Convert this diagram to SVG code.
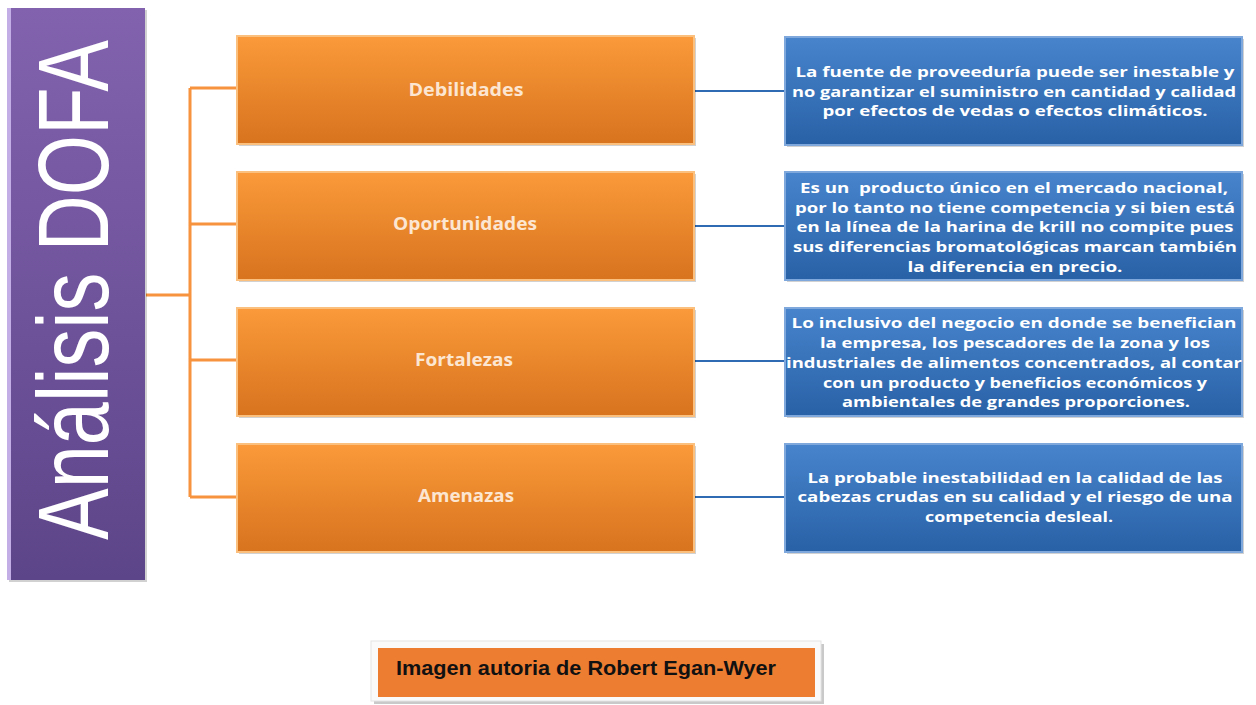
<svg xmlns="http://www.w3.org/2000/svg" width="1256" height="705" viewBox="0 0 1256 705">
<defs>
<linearGradient id="gPurple" x1="0" y1="0" x2="0" y2="1"><stop offset="0" stop-color="#8262AE"/><stop offset="1" stop-color="#5D4589"/></linearGradient>
<linearGradient id="gOrange" x1="0" y1="0" x2="0" y2="1"><stop offset="0" stop-color="#FA9A3A"/><stop offset="1" stop-color="#D8731E"/></linearGradient>
<linearGradient id="gBlue" x1="0" y1="0" x2="0" y2="1"><stop offset="0" stop-color="#4784CC"/><stop offset="1" stop-color="#2961A6"/></linearGradient>
<style>
.shadow{fill:#000;opacity:0.18}
.orange{fill:url(#gOrange);stroke:#FBC07E;stroke-width:2}
.blue{fill:url(#gBlue);stroke:#7FA9DC;stroke-width:2}
.olbl{font-family:"Open Sans","Liberation Sans",sans-serif;font-weight:bold;font-size:17px;fill:#FCE6D2;text-anchor:middle}
.btxt{font-family:"Open Sans","Liberation Sans",sans-serif;font-weight:bold;font-size:15px;fill:#FFFFFF;text-anchor:middle}
.oc{fill:none;stroke:#F7923E;stroke-width:3}
.bc{fill:none;stroke:#2E6BB2;stroke-width:2}
</style>
</defs>
<rect width="1256" height="705" fill="#FFFFFF"/>

<g id="connectors">
<path class="oc" d="M146 295 H190 M190 88 V497 M190 88 H237 M190 224 H237 M190 360 H237 M190 497 H237"/>
<path class="bc" d="M695 91 H785 M695 226 H785 M695 361 H785 M695 497 H785"/>
</g>

<g id="title">
<rect x="9" y="10" width="138" height="572" class="shadow"/>
<rect x="7" y="8" width="138" height="572" fill="url(#gPurple)"/>
<rect x="7" y="8" width="4" height="572" fill="#C4AEE6"/>
<text transform="translate(108,290) rotate(-90)" font-family="'Liberation Sans',Arial,sans-serif" font-size="100" fill="#FFFFFF" text-anchor="middle" textLength="500" lengthAdjust="spacingAndGlyphs">Análisis DOFA</text>
</g>

<g id="debilidades">
<rect x="239" y="38" width="457" height="108" class="shadow"/>
<rect x="237" y="36" width="457" height="108" class="orange"/>
<text x="466" y="96" class="olbl" textLength="115" lengthAdjust="spacingAndGlyphs">Debilidades</text>
</g>
<g id="oportunidades">
<rect x="239" y="174" width="457" height="108" class="shadow"/>
<rect x="237" y="172" width="457" height="108" class="orange"/>
<text x="465" y="230" class="olbl" textLength="144" lengthAdjust="spacingAndGlyphs">Oportunidades</text>
</g>
<g id="fortalezas">
<rect x="239" y="310" width="457" height="108" class="shadow"/>
<rect x="237" y="308" width="457" height="108" class="orange"/>
<text x="464" y="366" class="olbl" textLength="98" lengthAdjust="spacingAndGlyphs">Fortalezas</text>
</g>
<g id="amenazas">
<rect x="239" y="446" width="457" height="108" class="shadow"/>
<rect x="237" y="444" width="457" height="108" class="orange"/>
<text x="466" y="502" class="olbl" textLength="96" lengthAdjust="spacingAndGlyphs">Amenazas</text>
</g>

<g id="desc-debilidades">
<rect x="787" y="39" width="457" height="108" class="shadow"/>
<rect x="785" y="37" width="457" height="108" class="blue"/>
<text class="btxt" x="1015" y="77" textLength="439" lengthAdjust="spacingAndGlyphs">La fuente de proveeduría puede ser inestable y</text>
<text class="btxt" x="1014" y="97" textLength="444" lengthAdjust="spacingAndGlyphs">no garantizar el suministro en cantidad y calidad</text>
<text class="btxt" x="1015" y="116" textLength="385" lengthAdjust="spacingAndGlyphs">por efectos de vedas o efectos climáticos.</text>
</g>
<g id="desc-oportunidades">
<rect x="787" y="174" width="457" height="108" class="shadow"/>
<rect x="785" y="172" width="457" height="108" class="blue"/>
<text class="btxt" x="1014" y="193" textLength="428" lengthAdjust="spacingAndGlyphs" xml:space="preserve">Es un  producto único en el mercado nacional,</text>
<text class="btxt" x="1015" y="213" textLength="440" lengthAdjust="spacingAndGlyphs">por lo tanto no tiene competencia y si bien está</text>
<text class="btxt" x="1015" y="232" textLength="437" lengthAdjust="spacingAndGlyphs">en la línea de la harina de krill no compite pues</text>
<text class="btxt" x="1015" y="252" textLength="444" lengthAdjust="spacingAndGlyphs">sus diferencias bromatológicas marcan también</text>
<text class="btxt" x="1015" y="272" textLength="215" lengthAdjust="spacingAndGlyphs">la diferencia en precio.</text>
</g>
<g id="desc-fortalezas">
<rect x="787" y="310" width="457" height="108" class="shadow"/>
<rect x="785" y="308" width="457" height="108" class="blue"/>
<text class="btxt" x="1014" y="328" textLength="445" lengthAdjust="spacingAndGlyphs">Lo inclusivo del negocio en donde se benefician</text>
<text class="btxt" x="1015" y="348" textLength="390" lengthAdjust="spacingAndGlyphs">la empresa, los pescadores de la zona y los</text>
<text class="btxt" x="1014" y="368" textLength="456" lengthAdjust="spacingAndGlyphs">industriales de alimentos concentrados, al contar</text>
<text class="btxt" x="1015" y="388" textLength="384" lengthAdjust="spacingAndGlyphs">con un producto y beneficios económicos y</text>
<text class="btxt" x="1016" y="407" textLength="348" lengthAdjust="spacingAndGlyphs">ambientales de grandes proporciones.</text>
</g>
<g id="desc-amenazas">
<rect x="787" y="446" width="457" height="108" class="shadow"/>
<rect x="785" y="444" width="457" height="108" class="blue"/>
<text class="btxt" x="1015" y="483" textLength="415" lengthAdjust="spacingAndGlyphs">La probable inestabilidad en la calidad de las</text>
<text class="btxt" x="1015" y="502" textLength="435" lengthAdjust="spacingAndGlyphs">cabezas crudas en su calidad y el riesgo de una</text>
<text class="btxt" x="1019" y="522" textLength="188" lengthAdjust="spacingAndGlyphs">competencia desleal.</text>
</g>

<g id="credit">
<rect x="374" y="644" width="450" height="60" fill="#C9C9C9"/>
<rect x="371" y="641" width="450" height="60" fill="#FAFAFA" stroke="#E4E4E4" stroke-width="1"/>
<rect x="378" y="648" width="437" height="49" fill="#ED7D31"/>
<text x="396" y="675" font-family="'Liberation Sans',Arial,sans-serif" font-weight="bold" font-size="20" fill="#111111" textLength="380" lengthAdjust="spacingAndGlyphs">Imagen autoria de Robert Egan-Wyer</text>
</g>
</svg>
